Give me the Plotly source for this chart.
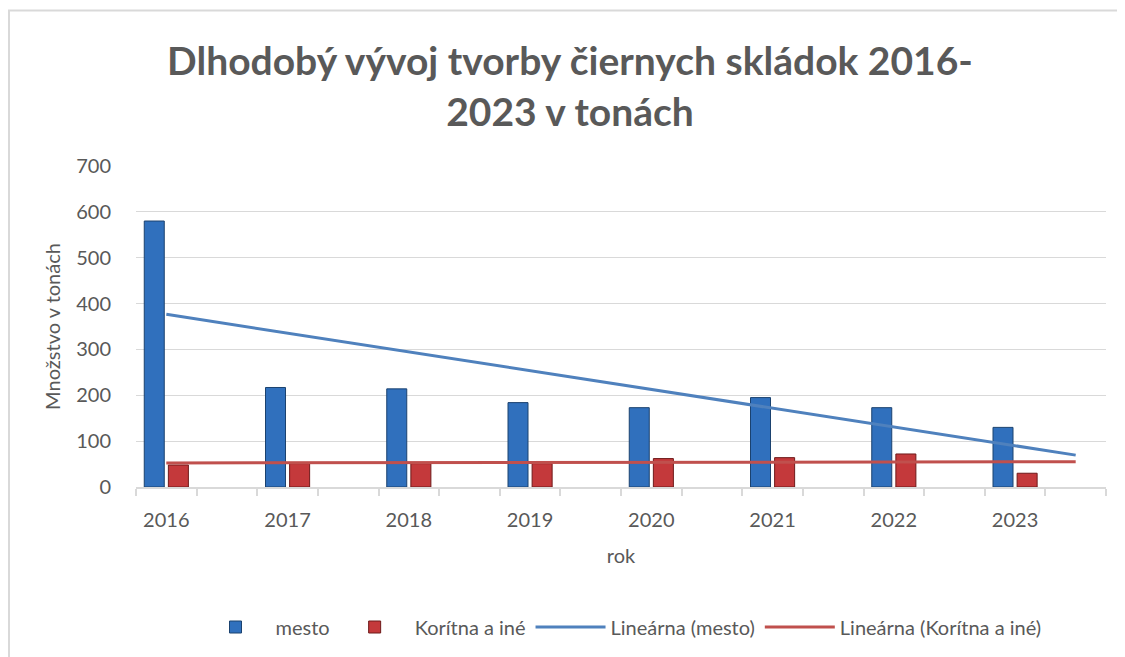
import numpy as np
import plotly.graph_objects as go

years = ["2016", "2017", "2018", "2019", "2020", "2021", "2022", "2023"]
mesto = [580, 217, 214, 184, 173, 195, 173, 130]
koritna = [48, 51, 51, 51, 62, 64, 72, 30]
y_ticks = [0, 100, 200, 300, 400, 500, 600, 700]

title_text = "Dlhodobý vývoj tvorby čiernych skládok 2016-<br>2023 v tonách"
font_family = "Lato, 'Open Sans', sans-serif"
txt_col = "#595959"
grid_col = "#D9D9D9"

x = np.arange(len(years))

# linear trendlines (Excel style, forward forecast 0.5 period)
xt = np.array([0.0, len(years) - 0.5])
pm = np.polyfit(x, mesto, 1)
pk = np.polyfit(x, koritna, 1)

bw = 0.165
fig = go.Figure()
fig.add_trace(go.Bar(x=x, y=mesto, name="mesto", width=bw, offset=-bw - 0.017,
                     marker=dict(color="#3070BD", line=dict(color="#1B426F", width=1))))
fig.add_trace(go.Bar(x=x, y=koritna, name="Korítna a iné", width=bw, offset=0.017,
                     marker=dict(color="#C4393B", line=dict(color="#6E1A1A", width=1))))
fig.add_trace(go.Scatter(x=xt, y=np.polyval(pm, xt), mode="lines", name="Lineárna (mesto)",
                         line=dict(color="#4F81BD", width=3)))
fig.add_trace(go.Scatter(x=xt, y=np.polyval(pk, xt), mode="lines", name="Lineárna (Korítna a iné)",
                         line=dict(color="#C0504D", width=3)))

# page body has an 8px margin; size the figure to fit the window
W, H = 1117, 649
L, R, T, B = 128, 1098, 158, 480
fig.update_layout(
    width=W, height=H,
    margin=dict(l=L, r=W - R, t=T, b=H - B),
    paper_bgcolor="white", plot_bgcolor="white",
    barmode="overlay",
    font=dict(family=font_family, size=20, color=txt_col),
    title=dict(text=title_text, x=562 / W, xanchor="center", xref="container",
               y=1 - 67 / H, yanchor="middle", yref="container",
               font=dict(family=font_family, size=39, color=txt_col, weight="bold")),
    showlegend=True,
    legend=dict(orientation="h", x=0.5, xanchor="center", y=(B - 619) / (B - T), yanchor="middle",
                font=dict(size=20, color=txt_col), itemwidth=70, traceorder="normal"),
    shapes=[dict(type="rect", xref="paper", yref="paper",
                 x0=(1 - L) / (R - L), x1=1.2, y0=-1.0, y1=(B - 2) / (B - T),
                 line=dict(color=grid_col, width=2), fillcolor="rgba(0,0,0,0)", layer="below")],
)
fig.update_xaxes(
    range=[-0.25, len(years) - 0.25], tickmode="array", tickvals=x, ticktext=years,
    showgrid=False, zeroline=False, showline=True, linecolor=grid_col, linewidth=1.5,
    ticks="outside", ticklen=0, tickcolor=grid_col, ticklabelstandoff=14,
    minor=dict(tickmode="linear", tick0=-0.25, dtick=0.5, ticks="outside", ticklen=7,
               tickcolor=grid_col, tickwidth=1.5, showgrid=False),
    title=dict(text="rok", standoff=19, font=dict(size=20, color=txt_col)),
    tickfont=dict(size=20, color=txt_col),
)
fig.update_yaxes(
    range=[0, 700], tickmode="array", tickvals=y_ticks,
    showgrid=True, gridcolor=grid_col, gridwidth=1, zeroline=False, showline=False,
    ticks="", ticklabelstandoff=24,
    title=dict(text="Množstvo v tonách", standoff=10, font=dict(size=20, color=txt_col)),
    tickfont=dict(size=20, color=txt_col),
)

fig.write_html("out.html")
